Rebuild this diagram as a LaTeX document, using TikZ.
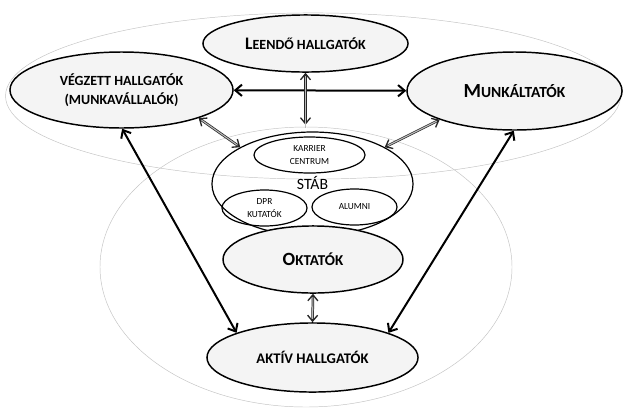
\documentclass[tikz,border=0pt]{standalone}
\usepackage{fontspec}
\setmainfont{Carlito}
\usetikzlibrary{arrows.meta,shapes}
\definecolor{bubble}{RGB}{244,244,244}
\definecolor{ring}{RGB}{195,195,195}

\begin{document}
\begin{tikzpicture}[x=0.75pt,y=-0.75pt,
                    group/.style={draw=ring,line width=0.35pt},
                    actor/.style={ellipse,draw,line width=1.1pt,fill=bubble,inner sep=0pt,align=center,
                                  font=\bfseries\fontsize{10.5}{14}\selectfont},
                    unit/.style={ellipse,draw,line width=0.9pt,inner sep=0pt,align=center,
                                 font=\fontsize{7}{9.5}\selectfont},
                    link/.style={{Straight Barb[length=5pt,width=8.5pt]}-{Straight Barb[length=5pt,width=8.5pt]},line width=1.5pt},
                    tie/.style={{Straight Barb[length=4.5pt,width=7.5pt,line width=1pt]}-{Straight Barb[length=4.5pt,width=7.5pt,line width=1pt]},
                                line width=1.9pt,draw=black!85,
                                postaction={draw=gray!55,line width=0.8pt,-,shorten <=2.5pt,shorten >=2.5pt}}]

    \useasboundingbox (0,0) rectangle (623,408);

    \draw[group] (313,96) ellipse [x radius=230.6pt, y radius=62.3pt];
    \draw[group] (306,267) ellipse [x radius=154.5pt, y radius=105pt];

    \node[unit,minimum width=150.8pt,minimum height=78pt] (stab) at (312.5,184) {};
    \node (stabtext) at (312.5,183) {\fontsize{11.8}{14}\selectfont STÁB};
    \node[unit,minimum width=83.3pt,minimum height=27pt] (karrier) at (309.5,155) {KARRIER\\CENTRUM};
    \node[unit,minimum width=63.8pt,minimum height=27pt] (dpr) at (264.5,208) {DPR\\KUTATÓK};
    \node[unit,minimum width=63.8pt,minimum height=27pt] (alumni) at (354.5,207) {ALUMNI};

    \node[actor,minimum width=153.8pt,minimum height=42.8pt] (leendo) at (305.5,43.5)
        {{\fontsize{13.2}{15}\selectfont L}EENDŐ HALLGATÓK};
    \node[actor,minimum width=167.3pt,minimum height=57pt] (vegzett) at (121.5,90)
        {VÉGZETT HALLGATÓK\\(MUNKAVÁLLALÓK)};
    \node[actor,minimum width=161.3pt,minimum height=58.5pt,font=\bfseries\fontsize{11.6}{14}\selectfont] (munka) at (514.5,91)
        {{\fontsize{15}{17}\selectfont M}UNKÁLTATÓK};
    \node[actor,minimum width=135pt,minimum height=50.3pt,font=\bfseries\fontsize{11.3}{14}\selectfont] (oktatok) at (313,259.5)
        {{\fontsize{14}{16}\selectfont O}KTATÓK};
    \node[actor,minimum width=158.3pt,minimum height=51.8pt,font=\bfseries\fontsize{11}{14}\selectfont] (aktiv) at (312.5,357.5)
        {AKTÍV HALLGATÓK};

    \draw[link] (vegzett) -- (munka);
    \draw[link] (vegzett.-89) -- (aktiv.162);
    \draw[link] (munka.-91) -- (aktiv.18);
    \draw[tie,shorten >=5pt] (leendo.south) -- (leendo.south |- stab.north);
    \draw[tie] (vegzett.-20) -- (stab.153);
    \draw[tie] (munka.201) -- (stab.27);
    \draw[tie] (oktatok.south) -- (aktiv.north);
\end{tikzpicture}
\end{document}
